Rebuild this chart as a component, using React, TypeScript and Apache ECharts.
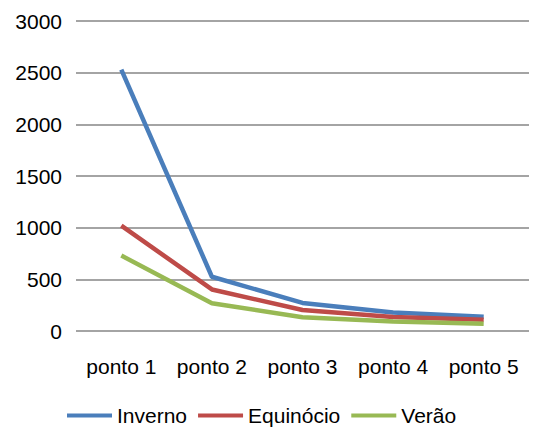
import React, { useEffect, useRef } from "react";
import * as echarts from "echarts";

const categories = ["ponto 1", "ponto 2", "ponto 3", "ponto 4", "ponto 5"];
const inverno = [2530, 525, 272, 178, 138];
const equinocio = [1020, 402, 203, 135, 108];
const verao = [730, 268, 133, 92, 70];
const seriesNames = ["Inverno", "Equinócio", "Verão"];
const colors = ["#4a7ebb", "#be4b48", "#98b954"];

export default function App() {
  const ref = useRef<HTMLDivElement>(null);
  useEffect(() => {
    if (!ref.current) return;
    const chart = echarts.init(ref.current, undefined, { renderer: "svg" });
    const font = "'Liberation Sans', Arial, sans-serif";
    const data = [inverno, equinocio, verao];
    chart.setOption({
      animation: false,
      color: colors,
      textStyle: { fontFamily: font },
      grid: { left: 76, right: 24, top: 21, bottom: 98, containLabel: false },
      xAxis: {
        type: "category",
        data: categories,
        boundaryGap: true,
        axisLine: { show: false },
        axisTick: { show: false },
        axisLabel: { color: "#000", fontSize: 21, margin: 25, fontFamily: font, interval: 0, hideOverlap: false },
      },
      yAxis: {
        type: "value",
        min: 0,
        max: 3000,
        interval: 500,
        axisLine: { show: false },
        axisTick: { show: false },
        axisLabel: {
          color: "#000",
          fontSize: 21,
          margin: 14,
          fontFamily: font,
          formatter: (v: number) => String(v),
        },
        splitLine: { lineStyle: { color: "#868686", width: 1.5 } },
      },
      legend: {
        top: 400,
        left: 62,
        icon: "rect",
        itemWidth: 45,
        itemHeight: 4,
        itemGap: 11,
        textStyle: { color: "#000", fontSize: 21, fontFamily: font },
        data: seriesNames,
      },
      series: data.map((d, i) => ({
        name: seriesNames[i],
        type: "line",
        data: d,
        symbol: "none",
        lineStyle: { width: 4.5, color: colors[i] },
        itemStyle: { color: colors[i] },
      })),
    });
    return () => chart.dispose();
  }, []);
  return (
    <div
      ref={ref}
      style={{ position: "fixed", left: 0, top: 0, width: 553, height: 429, background: "#fff" }}
    />
  );
}
